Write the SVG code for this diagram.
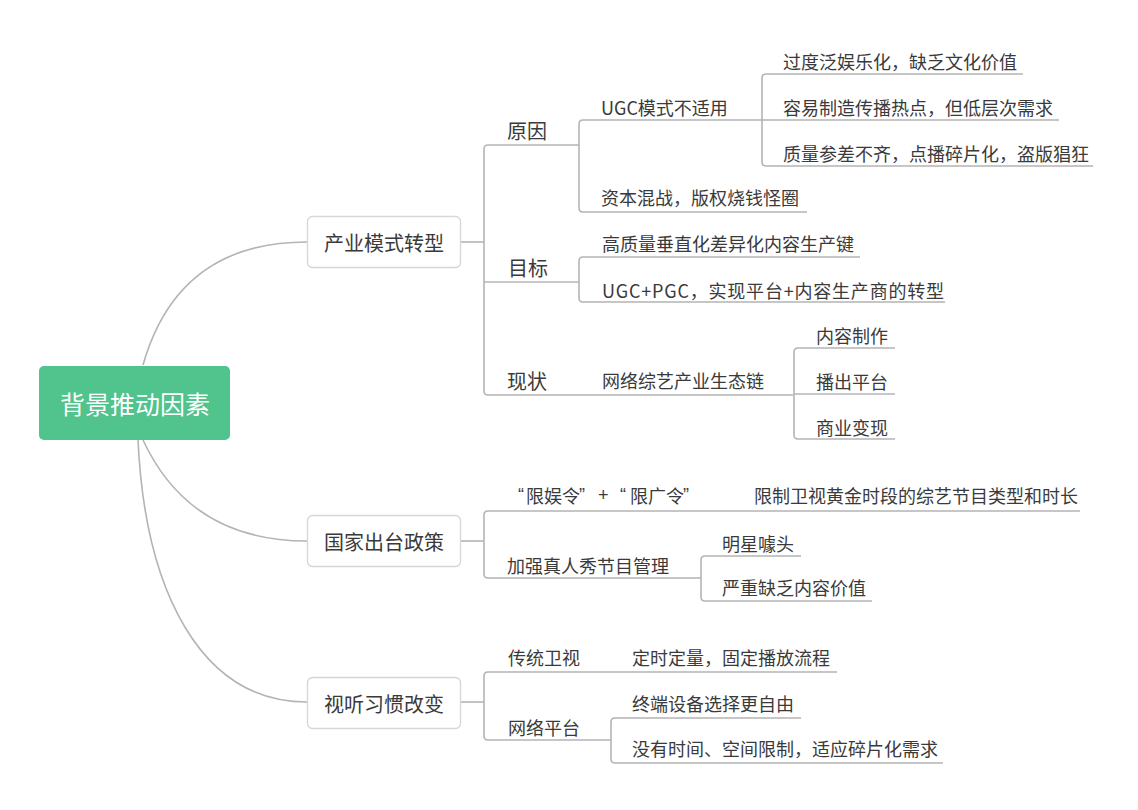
<svg xmlns="http://www.w3.org/2000/svg" width="1138" height="810" viewBox="0 0 1138 810">
<style>
.ln{fill:none;stroke:#b4b4b4;stroke-width:1.6}
.box{fill:#fff;stroke:#d6d6d6;stroke-width:1.3}
.t{font-family:"Noto Sans CJK SC","Noto Sans",sans-serif;fill:#3a3a3a;dominant-baseline:central}
.q{font-family:"Liberation Sans",sans-serif}
.s18{font-size:18px}
.s20{font-size:20px}
.c{text-anchor:middle}
</style>
<rect width="1138" height="810" fill="#fff"/>
<g id="connectors">
<path class="ln" d="M143,365 Q178,242 307,242"/>
<path class="ln" d="M143,440 Q190,541 307,541"/>
<path class="ln" d="M138,440 C145,590 200,702 307,702"/>
<path class="ln" d="M460,242 H484"/>
<path class="ln" d="M579,145 H488 Q484,145 484,149 V391 Q484,395 488,395 H793"/>
<path class="ln" d="M484,282 H579"/>
<path class="ln" d="M1059,120 H583 Q579,120 579,124 V208 Q579,212 583,212 H807"/>
<path class="ln" d="M1023,74 H766 Q762,74 762,78 V162 Q762,166 766,166 H1093"/>
<path class="ln" d="M860,257 H583 Q579,257 579,261 V298 Q579,302 583,302 H945"/>
<path class="ln" d="M895,348 H798 Q794,348 794,352 V435 Q794,439 798,439 H895"/>
<path class="ln" d="M794,394 H895"/>
<path class="ln" d="M460,541 H484"/>
<path class="ln" d="M1080,511 H488 Q484,511 484,515 V574 Q484,578 488,578 H701"/>
<path class="ln" d="M801,556 H705 Q701,556 701,560 V597 Q701,601 705,601 H872"/>
<path class="ln" d="M460,702 H484"/>
<path class="ln" d="M837,672 H488 Q484,672 484,676 V736 Q484,740 488,740 H611"/>
<path class="ln" d="M801,718 H615 Q611,718 611,722 V759 Q611,763 615,763 H943"/>
</g>
<g id="root">
<rect x="39" y="366" width="191" height="74" rx="5" fill="#51c38c"/>
<text class="t c" x="135" y="403" style="font-size:25px;fill:#fff">背景推动因素</text>
</g>
<g id="n1">
<rect class="box" x="307.5" y="216.5" width="153" height="51" rx="5"/>
<text class="t s20 c" x="384" y="242">产业模式转型</text>
</g>
<g id="n2">
<rect class="box" x="307.5" y="515.5" width="153" height="51" rx="5"/>
<text class="t s20 c" x="384" y="541">国家出台政策</text>
</g>
<g id="n3">
<rect class="box" x="307.5" y="677.5" width="153" height="51" rx="5"/>
<text class="t s20 c" x="384" y="703">视听习惯改变</text>
</g>
<g id="n1-1"><text class="t s20" x="507" y="130">原因</text></g>
<g id="n1-1-1"><text class="t s18" x="601" y="107">UGC模式不适用</text></g>
<g id="n1-1-1-1"><text class="t s18" x="783" y="61">过度泛娱乐化，缺乏文化价值</text></g>
<g id="n1-1-1-2"><text class="t s18" x="783" y="107">容易制造传播热点，但低层次需求</text></g>
<g id="n1-1-1-3"><text class="t s18" x="783" y="153">质量参差不齐，点播碎片化，盗版猖狂</text></g>
<g id="n1-1-2"><text class="t s18" x="601" y="197">资本混战，版权烧钱怪圈</text></g>
<g id="n1-2"><text class="t s20" x="508" y="267">目标</text></g>
<g id="n1-2-1"><text class="t s18" x="602" y="243">高质量垂直化差异化内容生产键</text></g>
<g id="n1-2-2"><text class="t s18" x="602" y="290" textLength="342">UGC+PGC，实现平台+内容生产商的转型</text></g>
<g id="n1-3"><text class="t s20" x="507" y="380">现状</text></g>
<g id="n1-3-1"><text class="t s18" x="602" y="380">网络综艺产业生态链</text></g>
<g id="n1-3-1-1"><text class="t s18" x="816" y="335">内容制作</text></g>
<g id="n1-3-1-2"><text class="t s18" x="816" y="381">播出平台</text></g>
<g id="n1-3-1-3"><text class="t s18" x="816" y="427">商业变现</text></g>
<g id="n2-1"><text class="t s18" y="495"><tspan class="q" x="518">“</tspan><tspan x="526">限娱令</tspan><tspan class="q" x="579">”</tspan><tspan class="q" x="598">+</tspan><tspan class="q" x="620">“</tspan><tspan x="630">限广令</tspan><tspan class="q" x="683">”</tspan></text></g>
<g id="n2-1-1"><text class="t s18" x="754" y="495">限制卫视黄金时段的综艺节目类型和时长</text></g>
<g id="n2-2"><text class="t s18" x="507" y="565">加强真人秀节目管理</text></g>
<g id="n2-2-1"><text class="t s18" x="722" y="543">明星噱头</text></g>
<g id="n2-2-2"><text class="t s18" x="722" y="587">严重缺乏内容价值</text></g>
<g id="n3-1"><text class="t s18" x="508" y="657">传统卫视</text></g>
<g id="n3-1-1"><text class="t s18" x="632" y="657">定时定量，固定播放流程</text></g>
<g id="n3-2"><text class="t s18" x="508" y="727">网络平台</text></g>
<g id="n3-2-1"><text class="t s18" x="632" y="703">终端设备选择更自由</text></g>
<g id="n3-2-2"><text class="t s18" x="632" y="748">没有时间、空间限制，适应碎片化需求</text></g>
</svg>
